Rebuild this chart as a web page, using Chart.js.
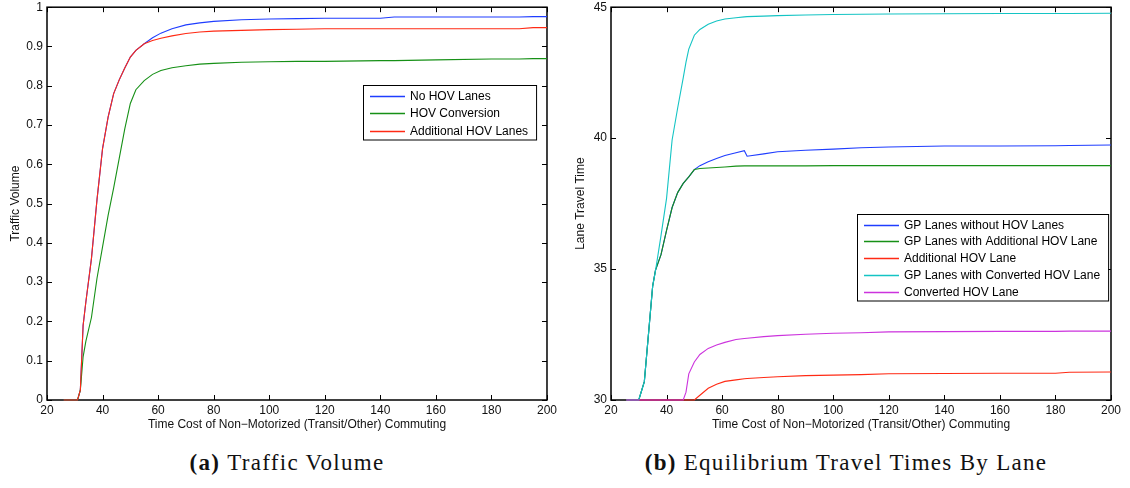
<!DOCTYPE html>
<html>
<head>
<meta charset="utf-8">
<script src="https://cdn.jsdelivr.net/npm/chart.js@4.4.0/dist/chart.umd.min.js"></script>
<style>
  body { margin: 0; background: #fff; width: 1130px; height: 488px; position: relative; overflow: hidden; }
  canvas { position: absolute; top: -4px; }
  #volume { left: 0; }
  #times { left: 565px; }
  .cap { position: absolute; top: 450px; font-family: "Liberation Serif", "Times New Roman", serif; font-size: 23px;
         letter-spacing: 1.3px; color: #111; text-align: center; white-space: nowrap; }
  .cap b { margin-right: 7px; }
</style>
</head>
<body>
<canvas id="volume" width="560" height="444"></canvas>
<canvas id="times" width="565" height="444"></canvas>
<div class="cap" style="left:0;width:574px"><b>(a)</b>Traffic Volume</div>
<div class="cap" style="left:546px;width:600px"><b>(b)</b>Equilibrium Travel Times By Lane</div>

<script>
// (a) traffic volume vs. time cost of non-motorized commuting
var volX = [26, 31, 32, 33, 34, 36, 38, 40, 42, 44, 46, 48, 50, 52, 55, 58, 61, 65, 70, 75,
            80, 90, 100, 110, 120, 140, 145, 160, 180, 190, 195, 200];
var noHovLanes = [0, 0, 0.025, 0.19, 0.25, 0.36, 0.51, 0.64, 0.72, 0.78, 0.815, 0.845, 0.873, 0.89, 0.907, 0.922, 0.934, 0.945, 0.955, 0.960,
                  0.964, 0.968, 0.970, 0.971, 0.972, 0.972, 0.975, 0.975, 0.975, 0.975, 0.976, 0.976];
var hovConversion = [0, 0, 0.025, 0.11, 0.15, 0.21, 0.31, 0.39, 0.47, 0.54, 0.615, 0.69, 0.755, 0.79, 0.813, 0.829, 0.839, 0.846, 0.851, 0.855,
                     0.857, 0.860, 0.861, 0.862, 0.862, 0.864, 0.864, 0.866, 0.868, 0.868, 0.869, 0.869];
var additionalHov = [0, 0, 0.025, 0.19, 0.25, 0.36, 0.51, 0.64, 0.72, 0.78, 0.815, 0.845, 0.873, 0.89, 0.907, 0.915, 0.921, 0.927, 0.933, 0.937,
                     0.939, 0.941, 0.943, 0.944, 0.945, 0.945, 0.945, 0.945, 0.945, 0.945, 0.948, 0.948];
var volTicks = [0, 0.1, 0.2, 0.3, 0.4, 0.5, 0.6, 0.7, 0.8, 0.9, 1];

// (b) equilibrium travel time by lane
var ttX = [25.5, 30, 32, 35, 36, 38, 40, 42, 44, 46, 47, 48, 50, 52, 55, 58, 61, 65, 68, 69,
           75, 80, 90, 100, 110, 120, 140, 160, 180, 185, 200];
var gpNoHov = [30, 30, 30.7, 34.35, 34.95, 35.55, 36.48, 37.35, 37.92, 38.27, 38.4, 38.52, 38.8, 38.95, 39.1, 39.22, 39.34, 39.44, 39.52, 39.31,
               39.4, 39.48, 39.54, 39.58, 39.63, 39.66, 39.7, 39.7, 39.71, 39.72, 39.74];
var gpAddHov = [30, 30, 30.7, 34.35, 34.95, 35.55, 36.48, 37.35, 37.92, 38.27, 38.4, 38.52, 38.8, 38.84, 38.86, 38.88, 38.9, 38.93, 38.94, 38.94,
                38.94, 38.94, 38.94, 38.95, 38.95, 38.95, 38.95, 38.95, 38.95, 38.95, 38.95];
var addHovLane = [30, 30, 30, 30, 30, 30, 30, 30, 30, 30, 30, 30, 30, 30.18, 30.45, 30.6, 30.71, 30.77, 30.81, 30.82,
                  30.86, 30.89, 30.93, 30.95, 30.97, 31.0, 31.01, 31.02, 31.02, 31.06, 31.07];
var gpConvHov = [30, 30, 30.7, 34.35, 34.92, 36.28, 37.7, 39.93, 41.15, 42.3, 42.9, 43.4, 43.93, 44.15, 44.35, 44.47, 44.55, 44.6, 44.63, 44.64,
                 44.66, 44.68, 44.7, 44.72, 44.73, 44.74, 44.75, 44.76, 44.76, 44.76, 44.77];
var convHovLane = [30, 30, 30, 30, 30, 30, 30, 30, 30, 30, 30.3, 31.0, 31.45, 31.74, 31.97, 32.1, 32.2, 32.31, 32.35, 32.36,
                   32.42, 32.46, 32.51, 32.55, 32.57, 32.6, 32.61, 32.62, 32.62, 32.63, 32.63];
var ttTicks = [30, 35, 40, 45];

var xTicks = [20, 40, 60, 80, 100, 120, 140, 160, 180, 200];
var xTitle = 'Time Cost of Non\u2212Motorized (Transit/Other) Commuting';

Chart.defaults.font.family = '"Liberation Sans", Arial, Helvetica, sans-serif';
Chart.defaults.font.size = 12;
Chart.defaults.color = '#111';

// matlab-like box with ticks pointing inwards
var frame = {
  id: 'frame',
  beforeDatasetsDraw(chart) {
    var ctx = chart.ctx, a = chart.chartArea, x = chart.scales.x, y = chart.scales.y;
    ctx.save();
    ctx.strokeStyle = '#000';
    ctx.lineWidth = 1;
    ctx.beginPath();
    x.ticks.forEach(function (t) {
      var px = Math.round(x.getPixelForValue(t.value)) + 0.5;
      ctx.moveTo(px, a.bottom); ctx.lineTo(px, a.bottom - 5);
      ctx.moveTo(px, a.top); ctx.lineTo(px, a.top + 5);
    });
    y.ticks.forEach(function (t) {
      var py = Math.round(y.getPixelForValue(t.value)) + 0.5;
      ctx.moveTo(a.left, py); ctx.lineTo(a.left + 5, py);
      ctx.moveTo(a.right, py); ctx.lineTo(a.right - 5, py);
    });
    ctx.stroke();
    ctx.lineWidth = 1.5;
    ctx.strokeRect(a.left, a.top, a.width, a.height);
    ctx.restore();
  }
};

// legend box inside the axes
var boxLegend = {
  id: 'boxLegend',
  afterDatasetsDraw(chart, args, opts) {
    var ctx = chart.ctx, a = chart.chartArea, sets = chart.data.datasets;
    ctx.save();
    ctx.font = '12px "Liberation Sans", Arial, sans-serif';
    var textW = Math.max.apply(null, sets.map(function (d) { return ctx.measureText(d.label).width; }));
    var w = 7 + 35 + 5 + textW + 8;
    var h = opts.rowH * (sets.length - 1) + 19.5;
    var left = Math.round(a.right - opts.right - w), top = Math.round(a.top + opts.top);
    ctx.fillStyle = '#fff';
    ctx.fillRect(left, top, w, h);
    ctx.strokeStyle = '#000';
    ctx.lineWidth = 1;
    ctx.strokeRect(left + 0.5, top + 0.5, w, h);
    ctx.textBaseline = 'middle';
    sets.forEach(function (d, i) {
      var cy = Math.round(top + 10.7 + i * opts.rowH) + 0.5;
      ctx.strokeStyle = d.borderColor;
      ctx.lineWidth = 1.3;
      ctx.beginPath();
      ctx.moveTo(left + 7, cy); ctx.lineTo(left + 42, cy);
      ctx.stroke();
      ctx.fillStyle = '#000';
      ctx.fillText(d.label, left + 47, cy);
    });
    ctx.restore();
  }
};

function lines(xs, list) {
  return list.map(function (s, i) {
    return {
      label: s[0],
      data: s[1].map(function (v, j) { return { x: xs[j], y: v }; }),
      borderColor: s[2],
      borderWidth: 1.1,
      pointRadius: 0,
      tension: 0,
      clip: false,
      order: list.length - i
    };
  });
}

function options(yMin, yMax, yTicks, yTitle, axisW, padRight, legend) {
  return {
    responsive: false,
    animation: false,
    layout: { padding: { top: 7, right: padRight, bottom: 0, left: 0 } },
    plugins: { legend: { display: false }, tooltip: { enabled: false }, boxLegend: legend },
    scales: {
      x: {
        type: 'linear', min: 20, max: 200,
        afterBuildTicks: function (s) { s.ticks = xTicks.map(function (v) { return { value: v }; }); },
        afterFit: function (s) { s.height = 40; },
        grid: { display: false, drawTicks: false },
        border: { display: false },
        ticks: { padding: 3, maxRotation: 0, autoSkip: false, callback: function (v) { return String(v); } },
        title: { display: true, text: xTitle, padding: { top: 0, bottom: 8 } }
      },
      y: {
        min: yMin, max: yMax,
        afterBuildTicks: function (s) { s.ticks = yTicks.map(function (v) { return { value: v }; }); },
        afterFit: function (s) { s.width = axisW; },
        grid: { display: false, drawTicks: false },
        border: { display: false },
        ticks: { padding: 4, autoSkip: false, callback: function (v) { return String(v); } },
        title: { display: true, text: yTitle, padding: { top: 8, bottom: 0 } }
      }
    }
  };
}

new Chart(document.getElementById('volume'), {
  type: 'line',
  data: {
    datasets: lines(volX, [
      ['No HOV Lanes', noHovLanes, '#1f3dff'],
      ['HOV Conversion', hovConversion, '#169016'],
      ['Additional HOV Lanes', additionalHov, '#ff2a14']
    ])
  },
  options: options(0, 1, volTicks, 'Traffic Volume', 47, 13, { right: 11, top: 78, rowH: 17.5 }),
  plugins: [frame, boxLegend]
});

new Chart(document.getElementById('times'), {
  type: 'line',
  data: {
    datasets: lines(ttX, [
      ['GP Lanes without HOV Lanes', gpNoHov, '#1f3dff'],
      ['GP Lanes with Additional HOV Lane', gpAddHov, '#169016'],
      ['Additional HOV Lane', addHovLane, '#ff2a14'],
      ['GP Lanes with Converted HOV Lane', gpConvHov, '#14c4c4'],
      ['Converted HOV Lane', convHovLane, '#cc33dd']
    ])
  },
  options: options(30, 45, ttTicks, 'Lane Travel Time', 46, 19, { right: 3.3, top: 206.3, rowH: 16.75 }),
  plugins: [frame, boxLegend]
});
</script>
</body>
</html>
